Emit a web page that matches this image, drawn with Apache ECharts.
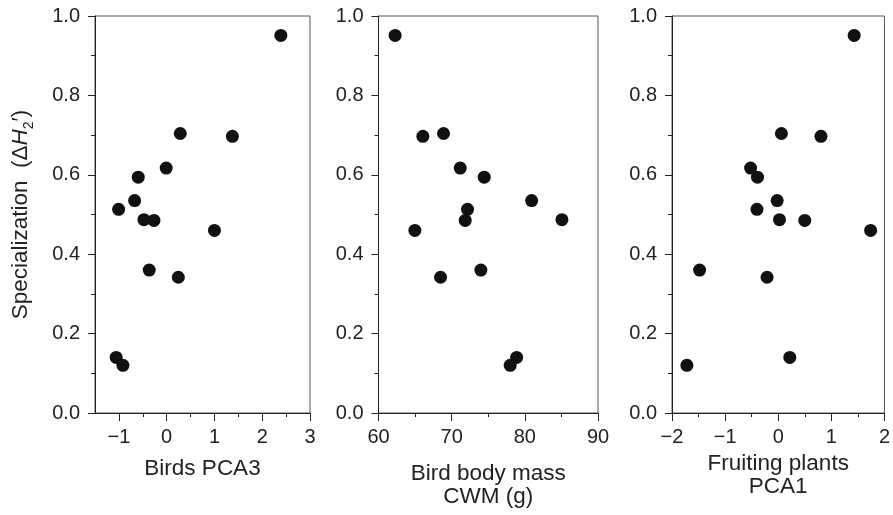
<!DOCTYPE html>
<html>
<head>
<meta charset="utf-8">
<script src="https://cdn.jsdelivr.net/npm/echarts@6/dist/echarts.min.js"></script>
<style>
  html, body { margin: 0; padding: 0; background: #fff; }
  #chart { width: 893px; height: 515px; }
</style>
</head>
<body>
<div id="chart"></div>
<script>
// specialization of the 14 networks (shared by all three panels)
const specialization = [0.951, 0.704, 0.697, 0.617, 0.594, 0.535, 0.513, 0.487, 0.485, 0.460, 0.360, 0.342, 0.140, 0.120];
// predictors, same order as specialization
const birdsPca3 = [2.39, 0.285, 1.376, -0.01, -0.595, -0.671, -1.006, -0.476, -0.266, 1.0, -0.365, 0.244, -1.057, -0.916];
const bodyMass = [62.27, 68.89, 66.06, 71.17, 74.45, 80.93, 72.17, 85.07, 71.85, 64.97, 73.99, 68.48, 78.88, 78.0];
const plantsPca1 = [1.43, 0.06, 0.805, -0.52, -0.39, -0.02, -0.40, 0.024, 0.50, 1.74, -1.48, -0.21, 0.218, -1.72];

const birdsMajor = [-1, 0, 1, 2, 3];
const birdsMinor = [-0.5, 0.5, 1.5, 2.5];

const font = "'Liberation Sans', Arial, sans-serif";
const ink = '#222';
const dot = '#111';

const chart = echarts.init(document.getElementById('chart'));

const minus = v => (v < 0 ? '\u2212' + Math.abs(v) : String(v));

const grids = [
  { left: 95, top: 16, width: 215, height: 397 },
  { left: 378.5, top: 16, width: 219.5, height: 397 },
  { left: 672, top: 16, width: 220, height: 397 }
].map(g => Object.assign(g, { show: true, borderColor: '#555', borderWidth: 1, backgroundColor: 'transparent' }));

const axisLine = { show: true, onZero: false, lineStyle: { color: ink, width: 1 } };
const labelStyle = { color: ink, fontSize: 20, fontFamily: font };
const nameStyle = { color: ink, fontSize: 22.5, fontFamily: font, lineHeight: 23 };

function yAxis(i) {
  const ax = {
    type: 'value', gridIndex: i, min: 0, max: 1, interval: 0.2,
    axisLine: axisLine,
    axisTick: { show: true, inside: false, length: 7, lineStyle: { color: ink } },
    minorTick: { show: true, splitNumber: 2, length: 4, lineStyle: { color: ink } },
    axisLabel: Object.assign({ margin: 15, formatter: v => v.toFixed(1) }, labelStyle),
    splitLine: { show: false }
  };
  if (i === 0) {
    ax.name = '{n|Specialization  (\u0394}{i|H}{s|2}{n|\u2032)}';
    ax.nameLocation = 'middle';
    ax.nameGap = 59;
    ax.nameTextStyle = {
      color: ink, fontFamily: font, fontSize: 22.5,
      rich: {
        n: { fontSize: 22.5, fontFamily: font, color: ink, lineHeight: 30 },
        i: { fontSize: 22.5, fontFamily: font, color: ink, fontStyle: 'italic', lineHeight: 30 },
        s: { fontSize: 14, fontFamily: font, color: ink, verticalAlign: 'bottom', lineHeight: 30 }
      }
    };
  }
  return ax;
}

const option = {
  animation: false,
  backgroundColor: '#fff',
  grid: grids,
  xAxis: [
    {
      type: 'value', gridIndex: 0, min: -1.5, max: 3,
      name: 'Birds PCA3', nameLocation: 'middle', nameGap: 44, nameTextStyle: nameStyle,
      axisLine: axisLine,
      axisTick: { show: true, length: 8, customValues: birdsMajor, lineStyle: { color: ink } },
      axisLabel: Object.assign({ margin: 14, customValues: birdsMajor, formatter: minus }, labelStyle),
      splitLine: { show: false }
    },
    {
      type: 'value', gridIndex: 0, min: -1.5, max: 3, position: 'bottom',
      axisLine: { show: false, onZero: false },
      axisTick: { show: true, length: 4, customValues: birdsMinor, lineStyle: { color: ink } },
      axisLabel: { show: false },
      splitLine: { show: false }
    },
    {
      type: 'value', gridIndex: 1, min: 60, max: 90, interval: 10,
      name: 'Bird body mass\nCWM (g)', nameLocation: 'middle', nameGap: 49, nameTextStyle: nameStyle,
      axisLine: axisLine,
      axisTick: { show: true, length: 8, lineStyle: { color: ink } },
      minorTick: { show: true, splitNumber: 2, length: 4, lineStyle: { color: ink } },
      axisLabel: Object.assign({ margin: 14, formatter: minus }, labelStyle),
      splitLine: { show: false }
    },
    {
      type: 'value', gridIndex: 2, min: -2, max: 2, interval: 1,
      name: 'Fruiting plants\nPCA1', nameLocation: 'middle', nameGap: 38, nameTextStyle: nameStyle,
      axisLine: axisLine,
      axisTick: { show: true, length: 8, lineStyle: { color: ink } },
      minorTick: { show: true, splitNumber: 2, length: 4, lineStyle: { color: ink } },
      axisLabel: Object.assign({ margin: 14, formatter: minus }, labelStyle),
      splitLine: { show: false }
    }
  ],
  yAxis: [yAxis(0), yAxis(1), yAxis(2)],
  series: [
    { type: 'scatter', xAxisIndex: 0, yAxisIndex: 0, symbolSize: 13, itemStyle: { color: dot, opacity: 1 },
      data: birdsPca3.map((x, k) => [x, specialization[k]]) },
    { type: 'scatter', xAxisIndex: 2, yAxisIndex: 1, symbolSize: 13, itemStyle: { color: dot, opacity: 1 },
      data: bodyMass.map((x, k) => [x, specialization[k]]) },
    { type: 'scatter', xAxisIndex: 3, yAxisIndex: 2, symbolSize: 13, itemStyle: { color: dot, opacity: 1 },
      data: plantsPca1.map((x, k) => [x, specialization[k]]) }
  ]
};

chart.setOption(option);
</script>
</body>
</html>
